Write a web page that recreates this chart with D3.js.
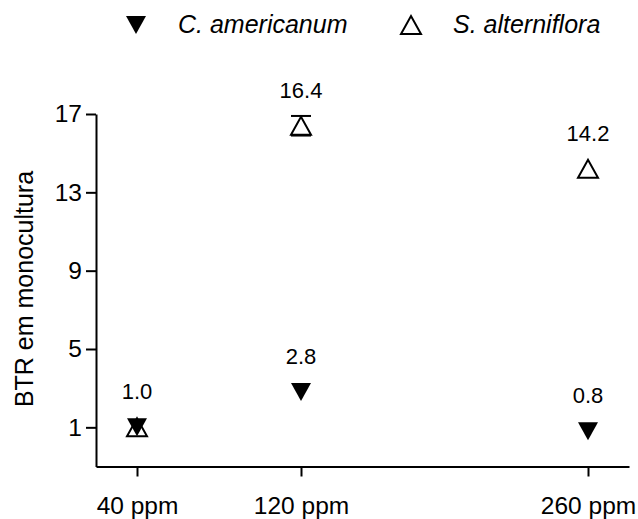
<!DOCTYPE html>
<html>
<head>
<meta charset="utf-8">
<script src="https://cdn.jsdelivr.net/npm/d3@7"></script>
<style>
  html, body { margin: 0; padding: 0; background: #fff; }
  svg text { font-family: "Liberation Sans", Arial, sans-serif; fill: #000; }
</style>
</head>
<body>
<div id="chart"></div>
<script>
// Data
const concentrations = [40, 120, 260];
const americanum = [1.0, 2.8, 0.8];
const alterniflora = [1.0, 16.4, 14.2];
const alternifloraErr = [0, 0.5, 0];
const yTicks = [1, 5, 9, 13, 17];
const pointLabels = [
  { x: 40, v: 1.0, text: "1.0" },
  { x: 120, v: 16.4, text: "16.4" },
  { x: 120, v: 2.8, text: "2.8" },
  { x: 260, v: 14.2, text: "14.2" },
  { x: 260, v: 0.8, text: "0.8" }
];

// Config
const width = 638, height = 519;
const triW = 20, triH = 18;
const tickFont = "24.5px";

const svg = d3.select("#chart").append("svg")
  .attr("width", width)
  .attr("height", height);

const x = d3.scaleLinear().domain([20, 280]).range([96, 629]);
const y = d3.scaleLinear().domain([-1, 17]).range([466.5, 114]);

// triangle path centred on its bounding box
function tri(down) {
  const w = triW / 2, h = triH / 2;
  return down
    ? `M${-w},${-h} L${w},${-h} L0,${h} Z`
    : `M${-w},${h} L${w},${h} L0,${-h} Z`;
}

// Axes
const yAxis = svg.append("g")
  .attr("transform", `translate(${x(20)},0)`)
  .call(d3.axisLeft(y).tickValues(yTicks).tickSize(10).tickSizeOuter(0).tickPadding(4));

const xAxis = svg.append("g")
  .attr("transform", `translate(0,${y(-1)})`)
  .call(d3.axisBottom(x).tickValues(concentrations).tickSize(10).tickSizeOuter(0)
    .tickPadding(20).tickFormat(d => d + " ppm"));

[yAxis, xAxis].forEach(g => {
  g.select(".domain").attr("stroke-width", 2);
  g.selectAll(".tick line").attr("stroke-width", 2);
  g.selectAll(".tick text")
    .style("font-size", tickFont)
    .style("font-family", "'Liberation Sans', Arial, sans-serif");
});

// Axis title
svg.append("text")
  .attr("transform", `translate(33,289) rotate(-90)`)
  .attr("text-anchor", "middle")
  .style("font-size", "25px")
  .text("BTR em monocultura");

// Error bars (S. alterniflora), drawn under the markers
const errData = concentrations.map((c, i) => ({ c, v: alterniflora[i], e: alternifloraErr[i] }))
  .filter(d => d.e > 0);
const eb = svg.append("g").attr("stroke", "#000").attr("stroke-width", 2);
errData.forEach(d => {
  eb.append("line").attr("x1", x(d.c)).attr("x2", x(d.c))
    .attr("y1", y(d.v + d.e)).attr("y2", y(d.v - d.e));
  [d.v + d.e, d.v - d.e].forEach(v => {
    eb.append("line").attr("x1", x(d.c) - 10).attr("x2", x(d.c) + 10)
      .attr("y1", y(v)).attr("y2", y(v));
  });
});

// Markers: open (white) triangles first, filled ones on top
svg.selectAll(".salt")
  .data(concentrations.map((c, i) => ({ c, v: alterniflora[i] })))
  .join("path")
  .attr("class", "salt")
  .attr("transform", d => `translate(${x(d.c)},${y(d.v)})`)
  .attr("d", tri(false))
  .attr("fill", "#fff")
  .attr("stroke", "#000")
  .attr("stroke-width", 2);

svg.selectAll(".cam")
  .data(concentrations.map((c, i) => ({ c, v: americanum[i] })))
  .join("path")
  .attr("class", "cam")
  .attr("transform", d => `translate(${x(d.c)},${y(d.v)})`)
  .attr("d", tri(true))
  .attr("fill", "#000");

// Value labels
svg.selectAll(".vlabel")
  .data(pointLabels)
  .join("text")
  .attr("class", "vlabel")
  .attr("x", d => x(d.x))
  .attr("y", d => y(d.v) - 28)
  .attr("text-anchor", "middle")
  .style("font-size", "22px")
  .text(d => d.text);

// Legend
const legend = svg.append("g");
legend.append("path").attr("transform", "translate(136,25)").attr("d", tri(true)).attr("fill", "#000");
legend.append("text").attr("x", 178).attr("y", 33)
  .style("font-size", "25px").style("font-style", "italic").text("C. americanum");
legend.append("path").attr("transform", "translate(411,25)").attr("d", tri(false))
  .attr("fill", "#fff").attr("stroke", "#000").attr("stroke-width", 2);
legend.append("text").attr("x", 453).attr("y", 33)
  .style("font-size", "25px").style("font-style", "italic").text("S. alterniflora");
</script>
</body>
</html>
